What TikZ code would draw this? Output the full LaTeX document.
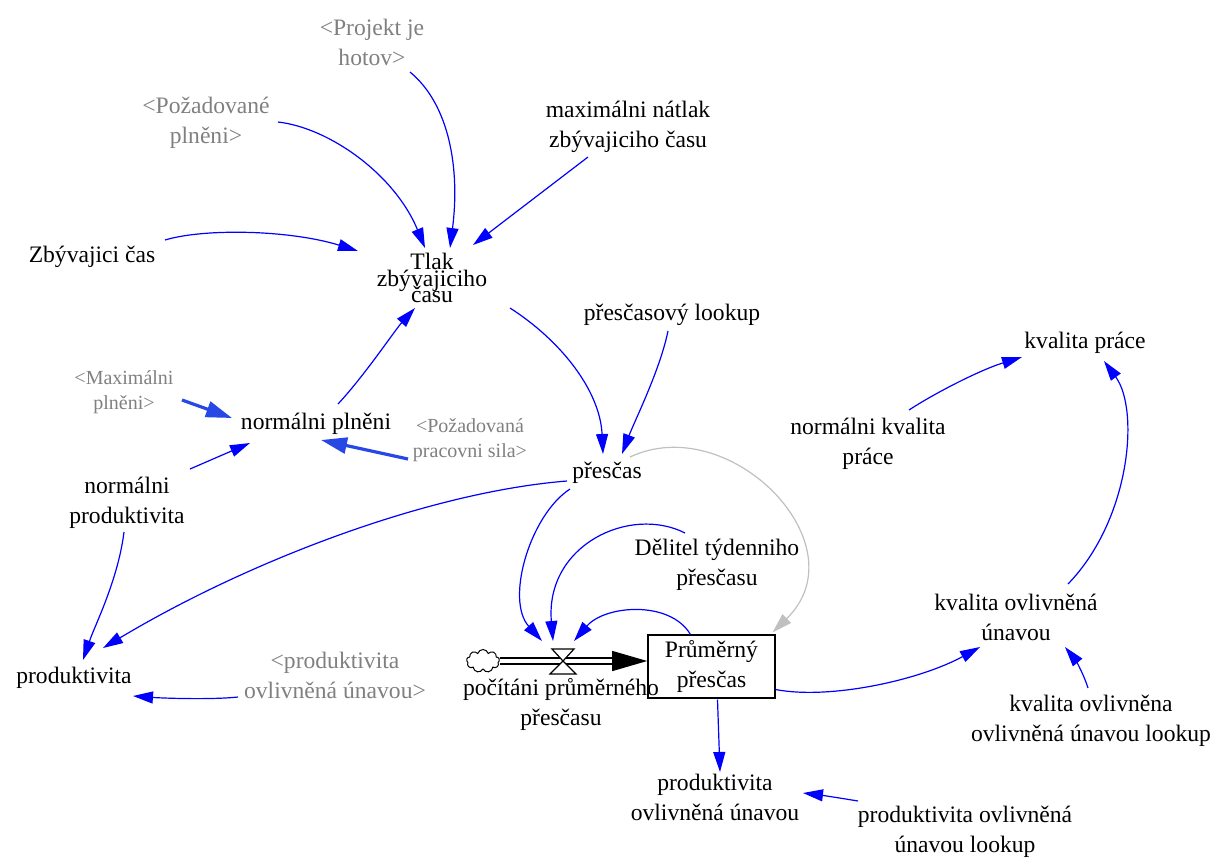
\documentclass[tikz,border=0pt]{standalone}
\usepackage{fontspec}
\setmainfont{Liberation Serif}
\usetikzlibrary{arrows.meta,calc,shapes.symbols}
\definecolor{vblue}{RGB}{0,0,255}
\definecolor{tblue}{RGB}{40,72,230}
\definecolor{vgray}{RGB}{128,128,128}
\definecolor{lgray}{RGB}{192,192,192}
\newcommand\mytightlines{\fontsize{11.8pt}{8.25pt}\selectfont\lineskiplimit=-100pt\relax}
\tikzset{
 lbl/.style={align=center, inner sep=0pt, font=\fontsize{11.8pt}{15pt}\selectfont},
 shadow/.style={lbl, text=vgray},
 smallshadow/.style={lbl, text=vgray, font=\fontsize{10pt}{12.5pt}\selectfont},
 link/.style={draw=vblue, line width=0.6pt, -{Triangle[length=10pt,width=6pt]}},
 thicklink/.style={draw=tblue, line width=1.6pt, -{Triangle[length=13pt,width=8pt]}},
 glink/.style={draw=lgray, line width=0.6pt, -{Triangle[length=10pt,width=6pt]}},
 stockbox/.style={lbl, draw, line width=0.8pt, minimum width=63.5pt, minimum height=31.5pt},
 valveshape/.style={draw, fill=white, line width=0.6pt},
 pipe/.style={line width=0.6pt, double=white, double distance=2.4pt, -{Triangle[length=17.5pt,width=10pt]}},
}
\begin{document}
\begin{tikzpicture}[x=0.5pt,y=-0.5pt]
\useasboundingbox (0,0) rectangle (1212,858);
% nodes
\node[shadow] (proj) at (372,42) {<Projekt je\\hotov>};
\node[shadow] (pozpl) at (206,123) {<Požadované\\plněni>};
\node[lbl] (maxnat) at (628,127) {maximálni nátlak\\zbývajiciho času};
\node[lbl] (zbyv) at (92,257) {Zbývajici čas};
\node[lbl, font=\mytightlines] (tlak) at (432,278) {Tlak\\zbývajiciho\\času};
\node[lbl] (preslook) at (672,315) {přesčasový lookup};
\node[lbl] (kvprace) at (1085,343) {kvalita práce};
\node[smallshadow] (maxpl) at (124,392) {<Maximálni\\plněni>};
\node[lbl] (normpl) at (316,424) {normálni plněni};
\node[smallshadow] (pozpr) at (470,440) {<Požadovaná\\pracovni sila>};
\node[lbl] (normkv) at (868,444) {normálni kvalita\\práce};
\node[lbl] (pres) at (607,473) {přesčas};
\node[lbl] (normprod) at (127,503) {normálni\\produktivita};
\node[lbl] (delitel) at (717,565) {Dělitel týdenniho\\přesčasu};
\node[lbl] (kvunav) at (1016,617) {kvalita ovlivněná\\únavou};
\node[stockbox] (prum) at (711.5,666.5) {Průměrný\\přesčas};
\node[cloud, draw, cloud puffs=9, aspect=1.5, minimum width=16.5pt, minimum height=11.5pt, inner sep=0pt, line width=0.5pt] (cloud) at (483,661) {};
\coordinate (valve) at (563,661);
% flow
\draw[pipe] (cloud.east) -- (cloud.east -| prum.west);
\draw[valveshape] ($(valve)+(-11,-12)$) -- ($(valve)+(11,-12)$) -- (valve) -- cycle;
\draw[valveshape] (valve) -- ($(valve)+(13,13)$) -- ($(valve)+(-13,13)$) -- cycle;
\node[lbl] (pocit) at (561,704) {počítáni průměrného\\přesčasu};
\node[lbl] (prod) at (74,678) {produktivita};
\node[shadow] (prodref) at (335,675) {<produktivita\\ovlivněná únavou>};
\node[lbl] (kvlook) at (1091,721) {kvalita ovlivněna\\ovlivněná únavou lookup};
\node[lbl] (produn) at (715,797) {produktivita\\ovlivněná únavou};
\node[lbl] (produnlook) at (965,832) {produktivita ovlivněná\\únavou lookup};
% connectors
\draw[link] ($(proj)+(38,30)$) .. controls (450,105) and (460,170) .. ($(tlak)+(18,-30)$);
\draw[link] ($(pozpl)+(72,-1)$) .. controls (330,128) and (395,175) .. ($(tlak)+(-7,-30)$);
\draw[link] ($(maxnat)+(-40,30)$) -- ($(tlak)+(41,-33)$);
\draw[link] ($(zbyv)+(73,-17)$) .. controls (205,228) and (290,230) .. ($(tlak)+(-74,-27)$);
\draw[link] ($(normpl)+(22,-20)$) .. controls (365,375) and (395,330) .. ($(tlak)+(-17,30)$);
\draw[link] ($(tlak)+(78,30)$) .. controls (560,340) and (600,390) .. ($(pres)+(-4,-19)$);
\draw[link] ($(preslook)+(-4,16)$) .. controls (660,370) and (635,420) .. ($(pres)+(15,-19)$);
\draw[thicklink] ($(maxpl)+(58,8)$) -- ($(normpl)+(-84,-6)$);
\draw[thicklink] ($(pozpr)+(-62,19)$) -- ($(normpl)+(5,16)$);
\draw[link] ($(normprod)+(63,-34)$) -- ($(normpl)+(-66,19)$);
\draw[link] ($(pres)+(-40,8)$) .. controls (430,492) and (250,560) .. ($(prod)+(29,-30)$);
\draw[link] ($(normprod)+(-3,29)$) .. controls (118,580) and (95,625) .. ($(prod)+(9,-18)$);
\draw[link] ($(prodref)+(-97,22)$) .. controls (210,700) and (160,698) .. ($(prod)+(59,18)$);
\draw[link] ($(pres)+(-37,16)$) .. controls (530,515) and (505,600) .. ($(valve)+(-21,-20)$);
\draw[link] ($(delitel)+(-32,-32)$) .. controls (630,505) and (545,545) .. ($(valve)+(-10,-20)$);
\draw[link] ($(prum)+(-21,-32)$) .. controls (670,600) and (605,605) .. ($(valve)+(11,-20)$);
\draw[glink] ($(pres)+(23,-16)$) .. controls (730,410) and (862,545) .. ($(prum)+(61,-34)$);
\draw[link] ($(prum)+(64,23)$) .. controls (830,700) and (920,680) .. ($(kvunav)+(-36,30)$);
\draw[link] ($(kvunav)+(52,-33)$) .. controls (1130,520) and (1140,410) .. ($(kvprace)+(19,18)$);
\draw[link] ($(normkv)+(41,-34)$) .. controls (935,393) and (980,370) .. ($(kvprace)+(-63,14)$);
\draw[link] ($(kvlook)+(-3,-33)$) .. controls (1083,672) and (1074,658) .. ($(kvunav)+(49,30)$);
\draw[link] ($(prum)+(6,33)$) -- ($(produn)+(5,-25)$);
\draw[link] ($(produnlook)+(-107,-31)$) .. controls (840,798) and (820,795) .. ($(produn)+(88,-4)$);
\end{tikzpicture}
\end{document}
